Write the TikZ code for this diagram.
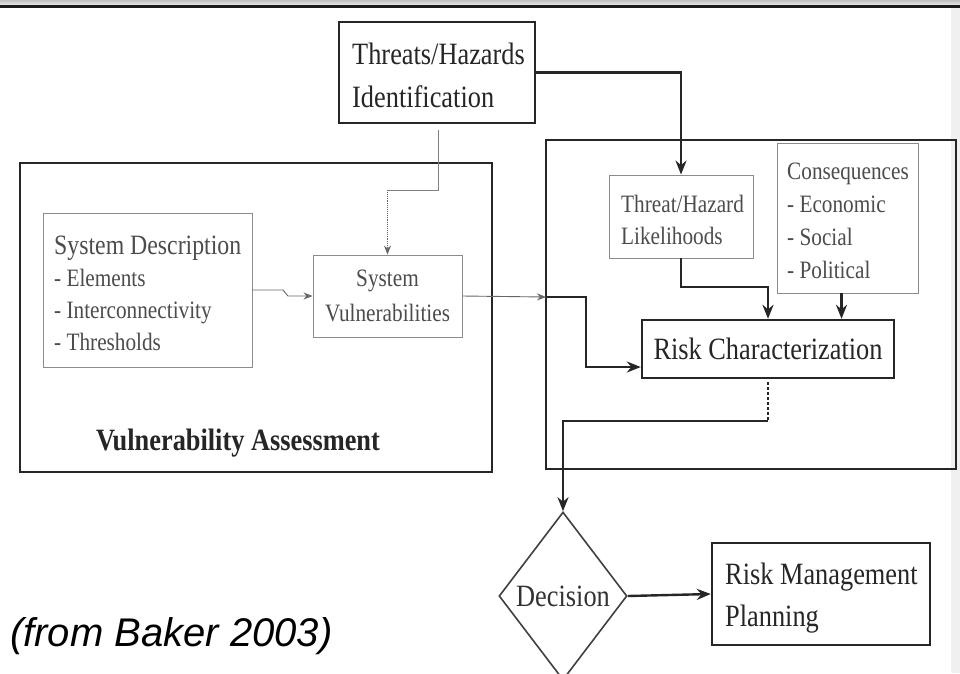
\documentclass[tikz,border=0pt]{standalone}
\usepackage{fontspec}
\setmainfont[FakeStretch=0.85]{Liberation Serif}
\newfontfamily\capfont{Liberation Sans}
\usetikzlibrary{arrows.meta,shapes.geometric,calc}
\begin{document}
\begin{tikzpicture}[x=1pt,y=-1pt,
  heavy/.style={draw=black!85,line width=2.4pt},
  light/.style={draw=black!45,line width=0.9pt},
  heavybox/.style={heavy,rectangle,inner sep=0pt,text=black!85},
  lightbox/.style={light,rectangle,inner sep=0pt,text=black!70},
  boxtext/.style={anchor=west,align=left,inner sep=0pt},
  harrow/.style={heavy,-{Stealth[length=14pt,width=11pt]}},
  larrow/.style={draw=black!60,line width=0.9pt,-{Stealth[length=9pt,width=7pt]}},
  big/.style={font=\fontsize{31}{43}\selectfont,text=black!85},
  small/.style={font=\fontsize{25}{33}\selectfont,text=black!70}]
\useasboundingbox (0,0) rectangle (960,673);
\fill[white] (0,0) rectangle (960,673);
% top frame edge
\shade[top color=black!25,bottom color=black!10] (0,0) rectangle (960,5);
\fill[black!90] (0,5) rectangle (960,7.5);
\fill[black!6] (951,7.5) rectangle (960,673);

% outer groups
\node[heavybox,minimum width=472,minimum height=309] (va) at (256,317.5) {};
\node[font=\bfseries\fontsize{31}{36}\selectfont,text=black!85] (valabel) at (238,443) {Vulnerability Assessment};
\node[heavybox,minimum width=410,minimum height=329] (rb) at (751,304.5) {};

% boxes with left-set text
\node[heavybox,minimum width=196,minimum height=101] (threats) at (437,72.5) {};
\node[boxtext,big] (threatstext) at (352,75.5) {Threats/Hazards\\Identification};

\node[lightbox,minimum width=209,minimum height=154] (sd) at (147.5,290) {};
\node[boxtext,small,font=\fontsize{25}{32}\selectfont] (sdtext) at (54,293.5)
  {{\fontsize{28}{32}\selectfont System Description}\\- Elements\\- Interconnectivity\\- Thresholds};

\node[lightbox,minimum width=144,minimum height=83] (th) at (681,216.5) {};
\node[boxtext,small,font=\fontsize{25}{32}\selectfont] (thtext) at (621,220) {Threat/Hazard\\Likelihoods};

\node[lightbox,minimum width=141,minimum height=150] (cons) at (847.5,218) {};
\node[boxtext,small] (constext) at (787,221) {Consequences\\- Economic\\- Social\\- Political};

\node[heavybox,minimum width=218,minimum height=102] (rmp) at (821,594) {};
\node[boxtext,big,font=\fontsize{31}{42}\selectfont] (rmptext) at (725,598) {Risk Management\\Planning};

% boxes with centred text
\node[lightbox,small,align=center,minimum width=149,minimum height=82,
  font=\fontsize{25}{35}\selectfont] (sv) at (387.5,296)
  {\raisebox{-3pt}{System}\\\raisebox{-3pt}{Vulnerabilities}};
\node[heavybox,minimum width=252,minimum height=58,
  font=\fontsize{31}{36}\selectfont] (rc) at (768,349) {\raisebox{-4pt}{Risk Characterization}};
\node[draw=black!75,line width=1.6pt,diamond,inner sep=0pt,
  minimum width=128,minimum height=168,aspect=0.76,text=black!80,
  font=\fontsize{31}{36}\selectfont] (dec) at (563,596) {Decision};

\node[font=\capfont\itshape\fontsize{40}{46}\selectfont,anchor=west,inner sep=0pt] (src) at (10,636) {(from Baker 2003)};

% junction points
\coordinate (tj) at (438,190);
\coordinate (sdj1) at (283,290);
\coordinate (sdj2) at (288,296);
\coordinate (rin) at (546,297);
\coordinate (rj) at (768,421);
\coordinate (cq) at ($(cons.south)+(-6,0)$);

% connectors
\draw[harrow] (threats.east) -| (th.north);
\draw[light,draw=black!50] ([yshift=-6pt]threats.south -| tj) -- (tj) -- (tj -| sv.north);
\draw[larrow,densely dotted] (tj -| sv.north) -- (sv.north);
\draw[larrow] (sd.east) -- (sdj1) -- (sdj2) -- (sv.west);
\draw[larrow] (sv.east) -- (rin);
\draw[harrow] (rin) -- ++(40,0) |- ($(rc.west)+(0,18)$);
\draw[harrow] (th.south) |- ($(rc.north)+(0,-32)$) -- (rc.north);
\draw[harrow] (cq) -- (cq |- rc.north);
\draw[heavy,densely dashed] ([yshift=-3pt]rc.south) -- (rj);
\draw[harrow] (rj) -| (dec.north);
\draw[harrow] (dec.east) -- (rmp.west);
\end{tikzpicture}
\end{document}
